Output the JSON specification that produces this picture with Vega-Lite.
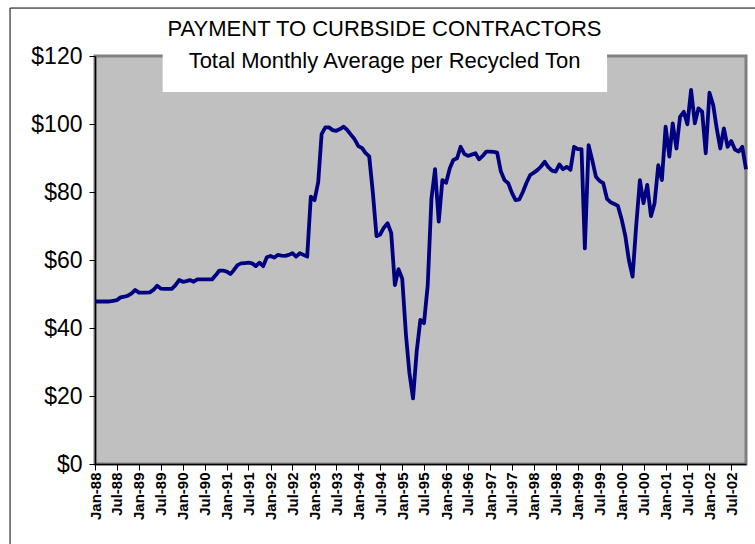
{
  "$schema": "https://vega.github.io/schema/vega-lite/v6.json",
  "width": 651,
  "height": 408,
  "autosize": {"type": "none"},
  "padding": {"left": 95, "top": 56, "right": 9, "bottom": 80},
  "background": "white",
  "config": {
    "font": "Liberation Sans",
    "view": {"fill": "#C0C0C0", "stroke": "#808080", "strokeWidth": 3}
  },
  "title": {
    "text": ["PAYMENT TO CURBSIDE CONTRACTORS", "Total Monthly Average per Recycled Ton"],
    "font": "Liberation Sans",
    "fontSize": 22,
    "fontWeight": "normal",
    "color": "black",
    "lineHeight": 32,
    "anchor": "middle",
    "frame": "group",
    "dx": -36,
    "offset": -65
  },
  "datasets": {
    "box": [{}],
    "payments": [
      {"date": "1988-01-01", "value": 47.8}, {"date": "1988-02-01", "value": 47.8}, {"date": "1988-03-01", "value": 47.8}, {"date": "1988-04-01", "value": 47.8}, {"date": "1988-05-01", "value": 47.8}, {"date": "1988-06-01", "value": 48.0}, {"date": "1988-07-01", "value": 48.2}, {"date": "1988-08-01", "value": 49.0}, {"date": "1988-09-01", "value": 49.2}, {"date": "1988-10-01", "value": 49.5}, {"date": "1988-11-01", "value": 50.2}, {"date": "1988-12-01", "value": 51.2},
      {"date": "1989-01-01", "value": 50.4}, {"date": "1989-02-01", "value": 50.4}, {"date": "1989-03-01", "value": 50.4}, {"date": "1989-04-01", "value": 50.5}, {"date": "1989-05-01", "value": 51.2}, {"date": "1989-06-01", "value": 52.4}, {"date": "1989-07-01", "value": 51.6}, {"date": "1989-08-01", "value": 51.5}, {"date": "1989-09-01", "value": 51.5}, {"date": "1989-10-01", "value": 51.5}, {"date": "1989-11-01", "value": 52.6}, {"date": "1989-12-01", "value": 54.1},
      {"date": "1990-01-01", "value": 53.6}, {"date": "1990-02-01", "value": 53.8}, {"date": "1990-03-01", "value": 54.1}, {"date": "1990-04-01", "value": 53.6}, {"date": "1990-05-01", "value": 54.3}, {"date": "1990-06-01", "value": 54.3}, {"date": "1990-07-01", "value": 54.3}, {"date": "1990-08-01", "value": 54.3}, {"date": "1990-09-01", "value": 54.3}, {"date": "1990-10-01", "value": 55.5}, {"date": "1990-11-01", "value": 56.9}, {"date": "1990-12-01", "value": 56.9},
      {"date": "1991-01-01", "value": 56.6}, {"date": "1991-02-01", "value": 55.9}, {"date": "1991-03-01", "value": 57.0}, {"date": "1991-04-01", "value": 58.5}, {"date": "1991-05-01", "value": 59.0}, {"date": "1991-06-01", "value": 59.1}, {"date": "1991-07-01", "value": 59.2}, {"date": "1991-08-01", "value": 59.0}, {"date": "1991-09-01", "value": 58.2}, {"date": "1991-10-01", "value": 59.2}, {"date": "1991-11-01", "value": 58.2}, {"date": "1991-12-01", "value": 60.8},
      {"date": "1992-01-01", "value": 61.2}, {"date": "1992-02-01", "value": 60.7}, {"date": "1992-03-01", "value": 61.5}, {"date": "1992-04-01", "value": 61.3}, {"date": "1992-05-01", "value": 61.2}, {"date": "1992-06-01", "value": 61.5}, {"date": "1992-07-01", "value": 62.0}, {"date": "1992-08-01", "value": 61.0}, {"date": "1992-09-01", "value": 62.0}, {"date": "1992-10-01", "value": 61.5}, {"date": "1992-11-01", "value": 61.0}, {"date": "1992-12-01", "value": 78.6},
      {"date": "1993-01-01", "value": 77.6}, {"date": "1993-02-01", "value": 83.0}, {"date": "1993-03-01", "value": 97.0}, {"date": "1993-04-01", "value": 99.0}, {"date": "1993-05-01", "value": 99.0}, {"date": "1993-06-01", "value": 98.2}, {"date": "1993-07-01", "value": 98.0}, {"date": "1993-08-01", "value": 98.5}, {"date": "1993-09-01", "value": 99.2}, {"date": "1993-10-01", "value": 98.2}, {"date": "1993-11-01", "value": 96.8}, {"date": "1993-12-01", "value": 95.5},
      {"date": "1994-01-01", "value": 93.5}, {"date": "1994-02-01", "value": 92.9}, {"date": "1994-03-01", "value": 91.5}, {"date": "1994-04-01", "value": 90.5}, {"date": "1994-05-01", "value": 80.0}, {"date": "1994-06-01", "value": 67.0}, {"date": "1994-07-01", "value": 67.5}, {"date": "1994-08-01", "value": 69.5}, {"date": "1994-09-01", "value": 70.8}, {"date": "1994-10-01", "value": 68.0}, {"date": "1994-11-01", "value": 52.6}, {"date": "1994-12-01", "value": 57.3},
      {"date": "1995-01-01", "value": 54.5}, {"date": "1995-02-01", "value": 38.0}, {"date": "1995-03-01", "value": 27.0}, {"date": "1995-04-01", "value": 19.3}, {"date": "1995-05-01", "value": 33.0}, {"date": "1995-06-01", "value": 42.4}, {"date": "1995-07-01", "value": 41.4}, {"date": "1995-08-01", "value": 52.5}, {"date": "1995-09-01", "value": 78.0}, {"date": "1995-10-01", "value": 86.7}, {"date": "1995-11-01", "value": 71.3}, {"date": "1995-12-01", "value": 83.5},
      {"date": "1996-01-01", "value": 82.7}, {"date": "1996-02-01", "value": 87.0}, {"date": "1996-03-01", "value": 89.4}, {"date": "1996-04-01", "value": 89.9}, {"date": "1996-05-01", "value": 93.3}, {"date": "1996-06-01", "value": 91.2}, {"date": "1996-07-01", "value": 90.6}, {"date": "1996-08-01", "value": 91.0}, {"date": "1996-09-01", "value": 91.4}, {"date": "1996-10-01", "value": 89.6}, {"date": "1996-11-01", "value": 90.6}, {"date": "1996-12-01", "value": 91.9},
      {"date": "1997-01-01", "value": 91.9}, {"date": "1997-02-01", "value": 91.8}, {"date": "1997-03-01", "value": 91.6}, {"date": "1997-04-01", "value": 86.0}, {"date": "1997-05-01", "value": 83.5}, {"date": "1997-06-01", "value": 82.6}, {"date": "1997-07-01", "value": 79.8}, {"date": "1997-08-01", "value": 77.6}, {"date": "1997-09-01", "value": 77.8}, {"date": "1997-10-01", "value": 80.0}, {"date": "1997-11-01", "value": 82.8}, {"date": "1997-12-01", "value": 85.0},
      {"date": "1998-01-01", "value": 85.7}, {"date": "1998-02-01", "value": 86.5}, {"date": "1998-03-01", "value": 87.5}, {"date": "1998-04-01", "value": 88.9}, {"date": "1998-05-01", "value": 87.3}, {"date": "1998-06-01", "value": 86.3}, {"date": "1998-07-01", "value": 86.0}, {"date": "1998-08-01", "value": 88.1}, {"date": "1998-09-01", "value": 86.7}, {"date": "1998-10-01", "value": 87.4}, {"date": "1998-11-01", "value": 86.5}, {"date": "1998-12-01", "value": 93.3},
      {"date": "1999-01-01", "value": 92.6}, {"date": "1999-02-01", "value": 92.6}, {"date": "1999-03-01", "value": 63.4}, {"date": "1999-04-01", "value": 93.8}, {"date": "1999-05-01", "value": 89.4}, {"date": "1999-06-01", "value": 84.5}, {"date": "1999-07-01", "value": 83.3}, {"date": "1999-08-01", "value": 82.6}, {"date": "1999-09-01", "value": 78.0}, {"date": "1999-10-01", "value": 77.0}, {"date": "1999-11-01", "value": 76.5}, {"date": "1999-12-01", "value": 75.9},
      {"date": "2000-01-01", "value": 72.0}, {"date": "2000-02-01", "value": 67.0}, {"date": "2000-03-01", "value": 60.0}, {"date": "2000-04-01", "value": 55.1}, {"date": "2000-05-01", "value": 70.0}, {"date": "2000-06-01", "value": 83.5}, {"date": "2000-07-01", "value": 76.7}, {"date": "2000-08-01", "value": 82.1}, {"date": "2000-09-01", "value": 72.9}, {"date": "2000-10-01", "value": 76.7}, {"date": "2000-11-01", "value": 87.9}, {"date": "2000-12-01", "value": 83.5},
      {"date": "2001-01-01", "value": 99.2}, {"date": "2001-02-01", "value": 90.4}, {"date": "2001-03-01", "value": 100.2}, {"date": "2001-04-01", "value": 92.8}, {"date": "2001-05-01", "value": 102.1}, {"date": "2001-06-01", "value": 103.6}, {"date": "2001-07-01", "value": 99.9}, {"date": "2001-08-01", "value": 110.0}, {"date": "2001-09-01", "value": 100.2}, {"date": "2001-10-01", "value": 104.6}, {"date": "2001-11-01", "value": 103.6}, {"date": "2001-12-01", "value": 91.4},
      {"date": "2002-01-01", "value": 109.2}, {"date": "2002-02-01", "value": 105.6}, {"date": "2002-03-01", "value": 99.0}, {"date": "2002-04-01", "value": 92.8}, {"date": "2002-05-01", "value": 98.7}, {"date": "2002-06-01", "value": 93.3}, {"date": "2002-07-01", "value": 95.0}, {"date": "2002-08-01", "value": 92.5}, {"date": "2002-09-01", "value": 91.9}, {"date": "2002-10-01", "value": 93.3}, {"date": "2002-11-01", "value": 86.7}
    ]
  },
  "layer": [
    {
      "data": {"name": "box"},
      "mark": {"type": "rect", "fill": null, "filled": false, "stroke": "black", "strokeWidth": 1},
      "encoding": {
        "x": {"datum": {"year": 1986, "month": 1, "date": 24, "utc": true}, "type": "temporal"},
        "x2": {"datum": {"year": 2006, "month": 1, "date": 1, "utc": true}},
        "y": {"datum": -40, "type": "quantitative"},
        "y2": {"datum": 134.1}
      }
    },
    {
      "data": {"name": "payments"},
      "mark": {"type": "line", "color": "#000080", "strokeWidth": 3.8, "strokeJoin": "round"},
      "encoding": {
        "x": {
          "field": "date",
          "type": "temporal",
          "scale": {
            "type": "utc",
            "domain": [{"year": 1988, "month": 1, "date": 1, "utc": true}, {"year": 2002, "month": 11, "date": 1, "utc": true}],
            "nice": false
          },
          "axis": {
            "title": null,
            "format": "%b-%y",
            "tickCount": {"interval": "month", "step": 6},
            "labelAngle": 270,
            "labelFont": "Liberation Sans",
            "labelFontWeight": "bold",
            "labelFontSize": 15,
            "labelColor": "black",
            "labelPadding": 2,
            "labelOverlap": false,
            "labelFlush": false,
            "tickColor": "black",
            "tickSize": 6,
            "domainColor": "black",
            "domainWidth": 1.5,
            "grid": false
          }
        },
        "y": {
          "field": "value",
          "type": "quantitative",
          "scale": {"domain": [0, 120], "nice": false},
          "axis": {
            "title": null,
            "values": [0, 20, 40, 60, 80, 100, 120],
            "format": "$,.0f",
            "labelFont": "Liberation Sans",
            "labelFontSize": 23,
            "labelColor": "black",
            "labelPadding": 7,
            "tickColor": "black",
            "tickSize": 6,
            "domainColor": "black",
            "domainWidth": 1.5,
            "grid": false
          }
        }
      }
    },
    {
      "data": {"name": "box"},
      "mark": {"type": "rect", "color": "white", "opacity": 1},
      "encoding": {
        "x": {"datum": {"year": 1989, "month": 7, "date": 17, "utc": true}, "type": "temporal"},
        "x2": {"datum": {"year": 1999, "month": 9, "date": 2, "utc": true}},
        "y": {"datum": 109.4, "type": "quantitative"},
        "y2": {"datum": 133.5}
      }
    }
  ]
}
